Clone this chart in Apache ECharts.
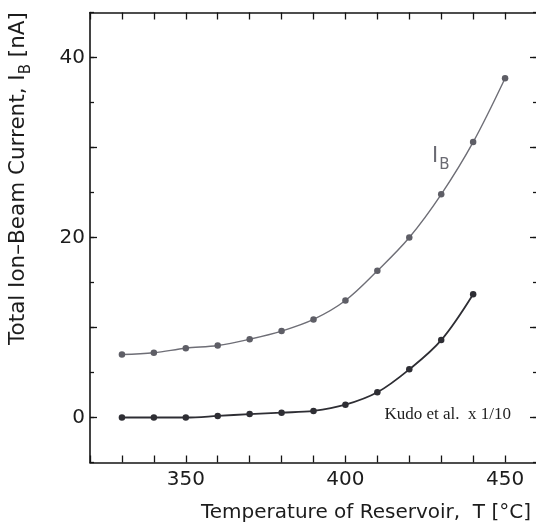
<!DOCTYPE html>
<html>
<head>
<meta charset="utf-8">
<script src="https://cdn.jsdelivr.net/npm/echarts@6/dist/echarts.min.js"></script>
<style>html,body{margin:0;padding:0;background:#fff;}#c{width:536px;height:523px;}</style>
</head>
<body>
<div id="c"></div>
<script>
// Temperature of reservoir (°C)
const tempIB = [330, 340, 350, 360, 370, 380, 390, 400, 410, 420, 430, 440, 450];
// Total ion-beam current I_B (nA)
const currentIB = [7.0, 7.2, 7.7, 8.0, 8.7, 9.6, 10.9, 13.0, 16.3, 20.0, 24.8, 30.6, 37.7];
// Kudo et al. (x 1/10)
const tempKudo = [330, 340, 350, 360, 370, 380, 390, 400, 410, 420, 430, 440];
const currentKudo = [0, 0, 0, 0.17, 0.38, 0.54, 0.73, 1.42, 2.8, 5.35, 8.6, 13.7];
// Tick labels
const xLabelValues = [350, 400, 450];
const yLabelValues = [0, 20, 40];
const yMajorTicks = [0, 10, 20, 30, 40];

const FONT = 'DejaVu Sans';
const AXC = '#141414';
const axisLine = { show: true, onZero: false, lineStyle: { color: AXC, width: 1.6 } };

const chart = echarts.init(document.getElementById('c'), null, { renderer: 'canvas' });
chart.setOption({
  animation: false,
  backgroundColor: '#ffffff',
  grid: { left: 90, top: 12.5, width: 447, height: 450, containLabel: false, outerBoundsMode: 'none' },
  xAxis: [
    {
      type: 'value', position: 'bottom', min: 320, max: 460, interval: 10,
      axisLine: axisLine,
      axisTick: { inside: true, length: 7, lineStyle: { color: AXC, width: 1.3 } },
      axisLabel: { customValues: xLabelValues, fontFamily: FONT, fontSize: 20, color: '#1c1c1c', margin: 7 },
      splitLine: { show: false },
      name: 'Temperature of Reservoir,  T [°C]',
      nameLocation: 'end', nameGap: -6,
      nameTextStyle: { fontFamily: FONT, fontSize: 20, color: '#1c1c1c', align: 'right', verticalAlign: 'top', padding: [40, 0, 0, 0] }
    },
    {
      type: 'value', position: 'top', min: 320, max: 460, interval: 10,
      axisLine: axisLine,
      axisTick: { inside: true, length: 7, lineStyle: { color: AXC, width: 1.3 } },
      axisLabel: { show: false }, splitLine: { show: false }
    }
  ],
  yAxis: [
    {
      type: 'value', position: 'left', min: -5, max: 45,
      axisLine: axisLine,
      axisTick: { inside: true, length: 7, customValues: yMajorTicks, lineStyle: { color: AXC, width: 1.3 } },
      axisLabel: { customValues: yLabelValues, fontFamily: FONT, fontSize: 20, color: '#1c1c1c', margin: 5 },
      splitLine: { show: false },
      name: 'Total Ion–Beam Current, I{sub|B} [nA]',
      nameLocation: 'middle', nameRotate: 90, nameGap: 61,
      nameTextStyle: {
        fontFamily: FONT, fontSize: 21.5, color: '#1c1c1c', padding: [0, 0, 0, 118],
        rich: { sub: { fontFamily: FONT, fontSize: 15, color: '#1c1c1c', verticalAlign: 'bottom', padding: [0, 0, -5, 0] } }
      }
    },
    {
      type: 'value', position: 'left', min: -5, max: 45, interval: 5,
      axisLine: { show: false, onZero: false },
      axisTick: { inside: true, length: 4, lineStyle: { color: AXC, width: 1.3 } },
      axisLabel: { show: false }, splitLine: { show: false }
    },
    {
      type: 'value', position: 'right', min: -5, max: 45,
      axisLine: axisLine,
      axisTick: { inside: true, length: 7, customValues: yMajorTicks, lineStyle: { color: AXC, width: 1.3 } },
      axisLabel: { show: false }, splitLine: { show: false }
    },
    {
      type: 'value', position: 'right', min: -5, max: 45, interval: 5,
      axisLine: { show: false, onZero: false },
      axisTick: { inside: true, length: 4, lineStyle: { color: AXC, width: 1.3 } },
      axisLabel: { show: false }, splitLine: { show: false }
    }
  ],
  series: [
    {
      name: 'I_B', type: 'line', xAxisIndex: 0, yAxisIndex: 0,
      data: tempIB.map((t, i) => [t, currentIB[i]]),
      smooth: 0.35, symbol: 'circle', symbolSize: 6.5,
      lineStyle: { color: '#6e6e76', width: 1.4 },
      itemStyle: { color: '#5e5e66' }
    },
    {
      name: 'Kudo et al. x 1/10', type: 'line', xAxisIndex: 0, yAxisIndex: 0,
      data: tempKudo.map((t, i) => [t, currentKudo[i]]),
      smooth: 0.35, symbol: 'circle', symbolSize: 6.5,
      lineStyle: { color: '#2e2e34', width: 1.8 },
      itemStyle: { color: '#2e2e34' }
    }
  ],
  graphic: [
    {
      type: 'text', left: 432, top: 146,
      style: {
        text: 'I{sub|B}', fontFamily: FONT, fontSize: 21, fill: '#6a6a72',
        rich: { sub: { fontFamily: FONT, fontSize: 15, fill: '#6a6a72', verticalAlign: 'bottom', padding: [0, 0, -6, 1] } }
      }
    },
    {
      type: 'text', right: 25, top: 406,
      style: { text: 'Kudo et al.  x 1/10', fontFamily: 'Liberation Serif', fontSize: 17, fill: '#1e1e1e' }
    }
  ]
});
</script>
</body>
</html>
